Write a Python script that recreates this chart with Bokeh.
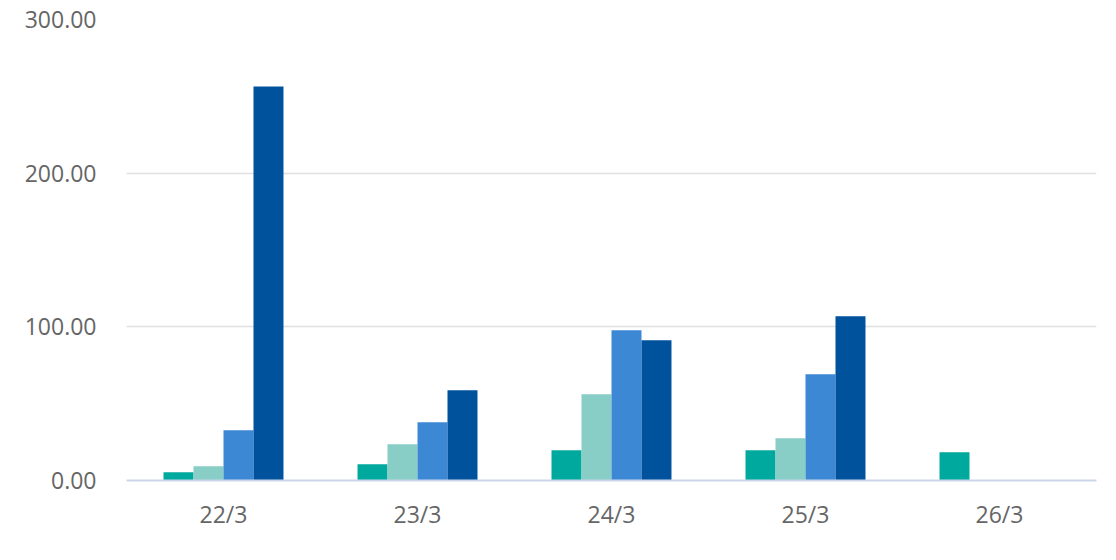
from bokeh.plotting import figure
from bokeh.models import FactorRange, Range1d, NumeralTickFormatter, FixedTicker
from bokeh.transform import dodge
from bokeh.embed import file_html
from bokeh.resources import INLINE
from bokeh.models import ColumnDataSource

categories = ["22/3", "23/3", "24/3", "25/3", "26/3"]
series_a = [5.4, 10.6, 19.7, 19.7, 18.4]
series_b = [9.3, 23.6, 56.1, 27.5, 0]
series_c = [32.7, 37.9, 97.7, 69.1, 0]
series_d = [256.4, 58.7, 91.2, 106.9, 0]
y_ticks = [0, 100, 200, 300]
colors = ["#00A99D", "#88CDC6", "#3D88D4", "#00529C"]

src = ColumnDataSource(dict(cat=categories, a=series_a, b=series_b, c=series_c, d=series_d))

p = figure(x_range=FactorRange(*categories), y_range=Range1d(0, 300),
           width=1100, height=544, output_backend="svg", toolbar_location=None,
           min_border_left=126, min_border_right=4, min_border_top=19, min_border_bottom=64)

bw = 0.1546
offs = [-1.5 * bw, -0.5 * bw, 0.5 * bw, 1.5 * bw]
for key, off, col in zip(["a", "b", "c", "d"], offs, colors):
    p.vbar(x=dodge("cat", off, range=p.x_range), top=key, width=bw, source=src,
           fill_color=col, line_color=None)

p.outline_line_color = None
p.xgrid.grid_line_color = None
p.ygrid.grid_line_color = "#E0E0E0"
p.ygrid.grid_line_width = 1.5
p.yaxis.ticker = FixedTicker(ticks=y_ticks)
p.yaxis.formatter = NumeralTickFormatter(format="0.00")
p.yaxis.axis_line_color = None
p.yaxis.major_tick_line_color = None
p.yaxis.minor_tick_line_color = None
p.yaxis.major_tick_out = 0
p.yaxis.major_label_standoff = 30
p.xaxis.axis_line_color = "#CCD6EB"
p.xaxis.axis_line_width = 2
p.xaxis.major_tick_line_color = None
p.xaxis.minor_tick_line_color = None
p.xaxis.major_tick_out = 0
p.xaxis.major_label_standoff = 17
for ax in (p.xaxis, p.yaxis):
    ax.major_label_text_font = "Open Sans"
    ax.major_label_text_font_size = "23px"
    ax.major_label_text_color = "#666666"

open("out.html", "w").write(file_html(p, INLINE))
